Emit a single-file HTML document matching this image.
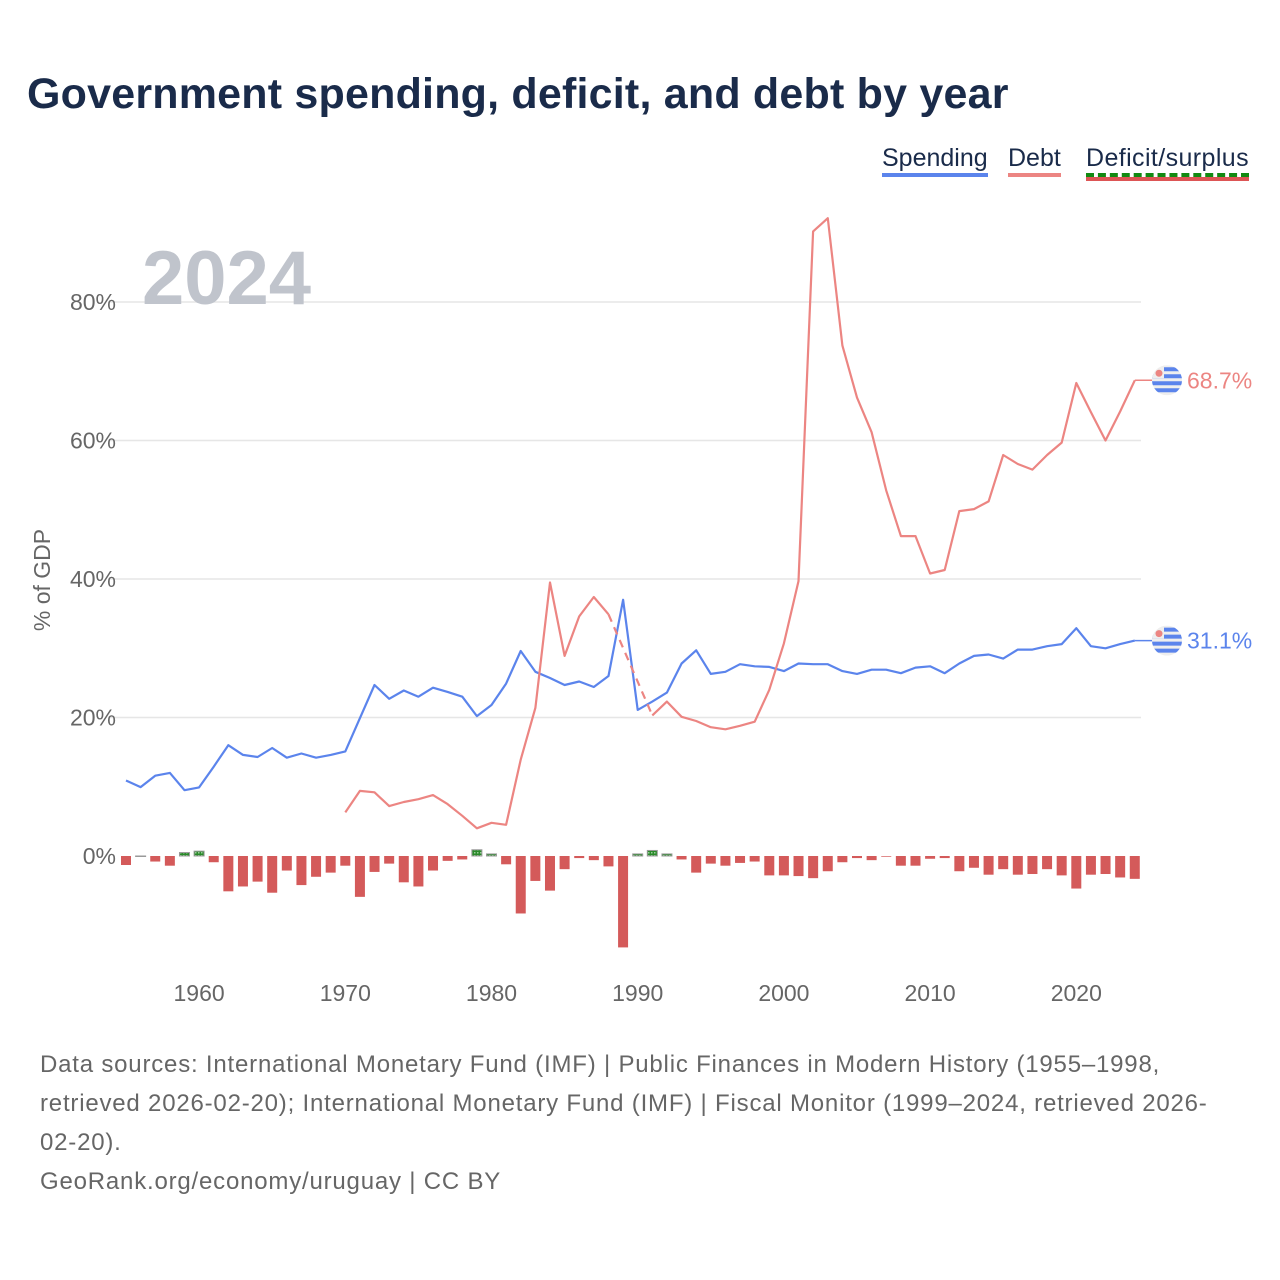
<!DOCTYPE html>
<html><head><meta charset="utf-8">
<style>
body{margin:0;background:#fff;width:1280px;height:1280px;overflow:hidden;font-family:"Liberation Sans",sans-serif;}
#title{position:absolute;left:27px;top:70px;font-size:43px;font-weight:bold;color:#1a2b4a;letter-spacing:0.2px;}
.leg{position:absolute;top:144px;font-size:25px;color:#1a2b4a;}
#footer{position:absolute;left:40px;top:1045px;width:1220px;font-size:24px;line-height:39px;color:#666;white-space:nowrap;letter-spacing:0.8px;}
</style></head><body>
<div id="title">Government spending, deficit, and debt by year</div>
<div class="leg" style="left:882px;border-bottom:4px solid #5b84ec;">Spending</div>
<div class="leg" style="left:1008px;border-bottom:4px solid #ec8582;">Debt</div>
<div class="leg" style="left:1086px;letter-spacing:0.4px;border-bottom:4px dashed #128a12;box-shadow:0 4px 0 #d55;">Deficit/surplus</div>
<svg id="chart" width="1280" height="1040" style="position:absolute;left:0;top:0"></svg>
<div id="footer">Data sources: International Monetary Fund (IMF) | Public Finances in Modern History (1955–1998,<br>retrieved 2026-02-20); International Monetary Fund (IMF) | Fiscal Monitor (1999–2024, retrieved 2026-<br>02-20).<br>GeoRank.org/economy/uruguay | CC BY</div>
<script>
const years=[];for(let y=1955;y<=2024;y++)years.push(y);
const spending=[10.9,9.95,11.6,12.0,9.5,9.9,12.9,16.0,14.6,14.3,15.6,14.2,14.8,14.2,14.6,15.1,19.9,24.7,22.7,23.9,23.0,24.3,23.7,23.0,20.2,21.8,24.9,29.6,26.6,25.7,24.7,25.2,24.4,26.0,37.0,21.1,22.3,23.6,27.8,29.7,26.3,26.6,27.7,27.4,27.3,26.7,27.8,27.7,27.7,26.7,26.3,26.9,26.9,26.4,27.2,27.4,26.4,27.8,28.9,29.1,28.5,29.8,29.8,30.3,30.6,32.9,30.3,30.0,30.6,31.1];
const debtYears=[1970,1971,1972,1973,1974,1975,1976,1977,1978,1979,1980,1981,1982,1983,1984,1985,1986,1987,1988,1991,1992,1993,1994,1995,1996,1997,1998,1999,2000,2001,2002,2003,2004,2005,2006,2007,2008,2009,2010,2011,2012,2013,2014,2015,2016,2017,2018,2019,2020,2021,2022,2023,2024];
const debt=[6.3,9.4,9.2,7.2,7.8,8.2,8.8,7.5,5.8,4.0,4.8,4.5,13.9,21.4,39.5,28.9,34.6,37.4,34.9,20.3,22.3,20.1,19.5,18.6,18.3,18.8,19.4,24.0,30.7,39.7,90.2,92.1,73.7,66.2,61.2,52.8,46.2,46.2,40.8,41.3,49.8,50.1,51.2,57.9,56.6,55.8,57.9,59.7,68.3,64.1,60.0,64.2,68.7];
const deficit=[-1.3,0,-0.8,-1.4,0.5,0.7,-0.9,-5.1,-4.4,-3.7,-5.3,-2.1,-4.2,-3.0,-2.4,-1.4,-5.9,-2.3,-1.1,-3.8,-4.4,-2.1,-0.7,-0.5,0.9,0.3,-1.2,-8.3,-3.6,-5.0,-1.9,-0.3,-0.6,-1.5,-13.2,0.3,0.8,0.3,-0.5,-2.4,-1.1,-1.4,-1.0,-0.8,-2.8,-2.8,-2.9,-3.2,-2.2,-0.9,-0.3,-0.6,-0.1,-1.4,-1.4,-0.4,-0.3,-2.2,-1.7,-2.7,-1.9,-2.7,-2.6,-1.9,-2.8,-4.7,-2.7,-2.6,-3.1,-3.3];
const yTicks=[0,20,40,60,80];
const xTicks=[1960,1970,1980,1990,2000,2010,2020];

const NS='http://www.w3.org/2000/svg';
const svg=document.getElementById('chart');
const X=y=>126+(y-1955)*14.62;
const Y=v=>856-v*6.925;
function mk(tag,attrs,parent){const e=document.createElementNS(NS,tag);for(const k in attrs)e.setAttribute(k,attrs[k]);(parent||svg).appendChild(e);return e;}

yTicks.forEach(t=>{
  if(t>0){const g=mk('line',{x1:110,x2:1141,y1:Y(t),y2:Y(t),stroke:'#e6e6e6','stroke-width':1.5});
  
  }
  const l=mk('text',{x:116,y:Y(t)+8,'text-anchor':'end','font-size':23,fill:'#666','font-family':'Liberation Sans'});
  l.textContent=t+'%';
  
  
});
xTicks.forEach(t=>{
  const l=mk('text',{x:X(t),y:1001,'text-anchor':'middle','font-size':23,fill:'#666','font-family':'Liberation Sans'});
  l.textContent=t;
  
  
});
const yt=mk('text',{x:0,y:0,transform:'translate(50,580) rotate(-90)','text-anchor':'middle','font-size':23,fill:'#666','font-family':'Liberation Sans'});
yt.textContent='% of GDP';



const yr=mk('text',{x:142,y:304,'font-size':76,'font-weight':'bold',fill:'#c0c4cc','font-family':'Liberation Sans'});
yr.textContent='2024';



const defs=mk('defs',{});
const pat=mk('pattern',{id:'hatch',width:3,height:3,patternUnits:'userSpaceOnUse'},defs);
mk('rect',{width:3,height:3,fill:'#2a8a2a'},pat);
mk('rect',{width:1.5,height:1.5,fill:'#9c9'},pat);
const clip=mk('clipPath',{id:'flagclip'},defs);
mk('circle',{cx:0,cy:0,r:15},clip);

deficit.forEach((v,i)=>{
  const x=X(years[i])-5;
  const y0=Y(0),y1=Y(v);
  const r=mk('rect',{x:x,y:Math.min(y0,y1),width:10,height:Math.max(Math.abs(y1-y0),0.5),
    fill:v>=0?'url(#hatch)':'#d45a5a',stroke:v>=0?'#999':'none','stroke-width':v>=0?1:0});
  
  
});

const sp=mk('path',{d:spending.map((v,i)=>(i?'L':'M')+X(years[i]).toFixed(1)+','+Y(v).toFixed(1)).join(''),fill:'none',stroke:'#5b84ec','stroke-width':2.2,'stroke-linejoin':'round'});



let d='',dd='';
for(let i=0;i<debt.length;i++){
  const p=X(debtYears[i]).toFixed(1)+','+Y(debt[i]).toFixed(1);
  if(i===0)d+='M'+p;
  else if(debtYears[i]-debtYears[i-1]>1){dd+='M'+X(debtYears[i-1]).toFixed(1)+','+Y(debt[i-1]).toFixed(1)+'L'+p;d+='M'+p;}
  else d+='L'+p;
}
const dl=mk('path',{d:d,fill:'none',stroke:'#ec8582','stroke-width':2.2,'stroke-linejoin':'round'});


const dg=mk('path',{d:dd,fill:'none',stroke:'#ec8582','stroke-width':2.2,'stroke-dasharray':'8,6'});



function endLabel(v,color,name){
  const y=Y(v);
  mk('line',{x1:X(2024),x2:1152,y1:y,y2:y,stroke:color,'stroke-width':1.5});
  const g=mk('g',{transform:'translate(1167,'+y+')','clip-path':'url(#flagclip)'});
  
  
  mk('rect',{x:-15,y:-15,width:30,height:30,fill:'#eee'},g);
  [[-11,-3],[-4,-15],[3,-15],[10,-15]].forEach(a=>mk('rect',{x:a[1],y:a[0]-2,width:30,height:4,fill:'#5b84ec'},g));
  mk('rect',{x:-15,y:-15,width:12,height:13,fill:'#eee'},g);
  mk('circle',{cx:-8,cy:-7,r:3.5,fill:'#ec8582'},g);
  const t=mk('text',{x:1187,y:y+8,'font-size':23,fill:color,'font-family':'Liberation Sans'});
  t.textContent=v.toFixed(1)+'%';
  
  
}
endLabel(debt[debt.length-1],'#ec8582','debt');
endLabel(spending[spending.length-1],'#5b84ec','spending');
</script>
</body></html>
